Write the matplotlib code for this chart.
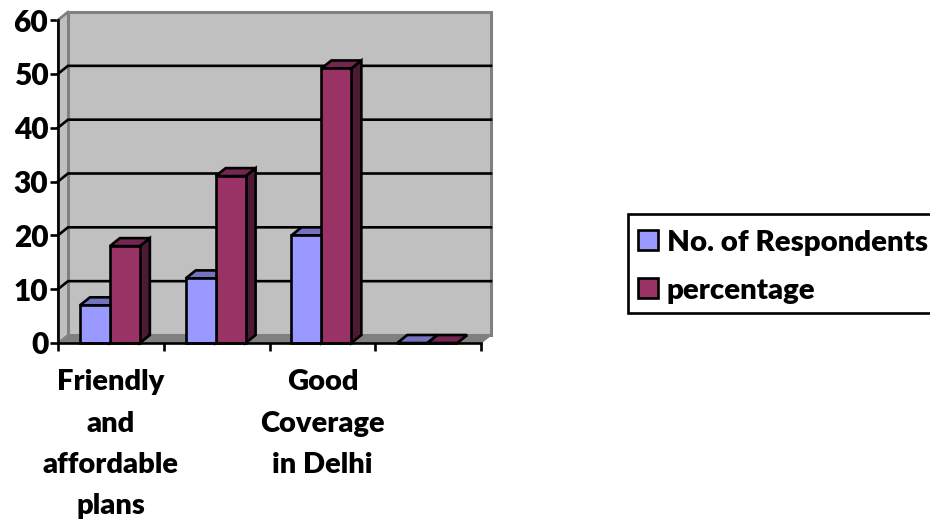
import matplotlib
matplotlib.use("Agg")
import matplotlib.pyplot as plt
from matplotlib.patches import Polygon, Rectangle

plt.rcParams['font.family'] = ['Lato', 'DejaVu Sans']
plt.rcParams['font.weight'] = 800

categories = ["Friendly\nand\naffordable\nplans", "", "Good\nCoverage\nin Delhi", ""]
respondents = [7, 12, 20, 0]
percentage = [18, 31, 51, 0]
y_ticks = [0, 10, 20, 30, 40, 50, 60]

W, H = 930, 520
fig = plt.figure(figsize=(W / 100, H / 100), dpi=100)
ax = fig.add_axes([58 / W, (H - 343) / H, 423 / W, 323 / H])
ax.set_xlim(0, 4)
ax.set_ylim(0, 60)
ax.patch.set_visible(False)

# depth offset of the fake 3d box, in data units
dx = 10 / (423 / 4)
dy = 8 / (323 / 60)
bar_w = 0.283
lw = 1.9


def add_poly(pts, fc, ec="black", z=3, width=lw):
    ax.add_patch(Polygon(pts, closed=True, fc=fc, ec=ec, lw=width, zorder=z,
                         clip_on=False, joinstyle="miter"))


# walls and floor
add_poly([(dx, dy), (4 + dx, dy), (4 + dx, 60 + dy), (dx, 60 + dy)], "#c0c0c0", "#808080", 1, 2.2)
add_poly([(0, 0), (dx, dy), (dx, 60 + dy), (0, 60)], "#c0c0c0", "#808080", 1, 1.5)
add_poly([(0, 0), (4, 0), (4 + dx, dy), (dx, dy)], "#808080", "#808080", 1, 1)

for t in y_ticks[1:-1]:
    ax.plot([0, dx, 4 + dx], [t, t + dy, t + dy], color="black", lw=lw, zorder=2,
            clip_on=False, solid_joinstyle="miter")
ax.plot([0, dx], [60, 60 + dy], color="#808080", lw=lw, zorder=2, clip_on=False)


def draw_bars(offset, values, front, top, side):
    for i, v in enumerate(values):
        x0 = i + offset
        x1 = x0 + bar_w
        add_poly([(x1, 0), (x1 + dx, dy), (x1 + dx, v + dy), (x1, v)], side, z=3)
        add_poly([(x0, v), (x1, v), (x1 + dx, v + dy), (x0 + dx, v + dy)], top, z=3)
        ax.bar(x0, v, width=bar_w, align="edge", color=front, edgecolor="black", linewidth=lw,
               zorder=4, clip_on=False)


# right-hand series first so its neighbour overlaps the shared edge correctly
draw_bars(0.208 + bar_w, percentage, "#993366", "#732650", "#4d1a33")
draw_bars(0.208, respondents, "#9999ff", "#7373bf", "#4d4d80")

for s in ["top", "right"]:
    ax.spines[s].set_visible(False)
for s in ["left", "bottom"]:
    ax.spines[s].set_linewidth(lw)
    ax.spines[s].set_zorder(5)

ax.set_yticks(y_ticks)
ax.tick_params(axis="y", length=6, width=lw, labelsize=21.5, pad=1)
ax.set_xticks(range(5))
ax.set_xticklabels([])
ax.tick_params(axis="x", length=6, width=lw)
ax.set_xticks([i + 0.5 for i in range(4)], minor=True)
ax.set_xticklabels(categories, minor=True, fontsize=21, linespacing=1.73)
ax.tick_params(axis="x", which="minor", length=0, pad=19)

# legend box runs off the right edge
fig.add_artist(Rectangle((628 / W, (H - 313) / H), 310 / W, 99 / H, transform=fig.transFigure,
                         fc="white", ec="black", lw=lw))
for label, color, y in [("No. of Respondents", "#9999ff", 240), ("percentage", "#993366", 288)]:
    fig.add_artist(Rectangle((638 / W, (H - y - 10) / H), 20 / W, 20 / H, transform=fig.transFigure,
                             fc=color, ec="black", lw=lw))
    fig.text(667 / W, (H - y - 3) / H, label, fontsize=21.2, va="center", ha="left")

fig.savefig("out.png", dpi=100)
